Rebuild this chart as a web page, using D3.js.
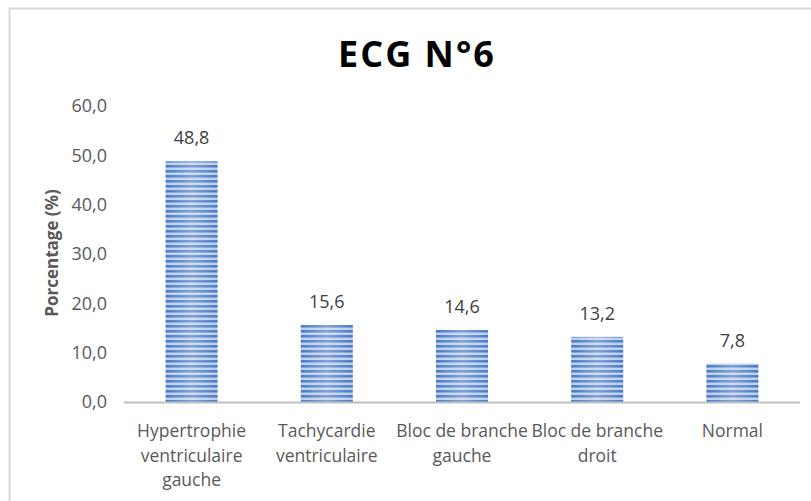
<!DOCTYPE html>
<html>
<head>
<meta charset="utf-8">
<script src="https://cdn.jsdelivr.net/npm/d3@7"></script>
<style>
  html, body { margin: 0; padding: 0; background: #fff; }
  svg { display: block; font-family: "Open Sans", "Noto Sans", sans-serif; }
</style>
</head>
<body>
<svg id="chart" width="811" height="501"></svg>
<script>
// ECG n°6 findings, percentage of patients
const categories = [
  ["Hypertrophie", "ventriculaire", "gauche"],
  ["Tachycardie", "ventriculaire"],
  ["Bloc de branche", "gauche"],
  ["Bloc de branche", "droit"],
  ["Normal"]
];
const values = [48.8, 15.6, 14.6, 13.2, 7.8];
const yTicks = [0, 10, 20, 30, 40, 50, 60];
const title = "ECG N°6";
const yTitle = "Porcentage (%)";

const fmt = v => v.toFixed(1).replace(".", ",");

const svg = d3.select("#chart");
const margin = { left: 124, right: 11, top: 106, bottom: 99 };
const W = 811, H = 501;

// outer chart frame
svg.append("rect")
  .attr("x", 9.5).attr("y", 8.5)
  .attr("width", 820).attr("height", 520)
  .attr("fill", "none").attr("stroke", "#d9d9d9").attr("stroke-width", 2);

// striped bar fill
const defs = svg.append("defs");
const pat = defs.append("pattern")
  .attr("id", "stripes").attr("patternUnits", "userSpaceOnUse")
  .attr("width", 8).attr("height", 5);
pat.append("rect").attr("width", 8).attr("height", 5).attr("fill", "#bccfec");
pat.append("rect").attr("y", 0).attr("width", 8).attr("height", 2).attr("fill", "#4a7bc6");
pat.append("rect").attr("y", 2).attr("width", 8).attr("height", 1).attr("fill", "#7d9fd8");

const grad = defs.append("linearGradient").attr("id", "sheen")
  .attr("x1", "0").attr("x2", "1").attr("y1", "0").attr("y2", "0");
grad.append("stop").attr("offset", "0").attr("stop-color", "#fff").attr("stop-opacity", 0);
grad.append("stop").attr("offset", "0.5").attr("stop-color", "#fff").attr("stop-opacity", 0.3);
grad.append("stop").attr("offset", "1").attr("stop-color", "#fff").attr("stop-opacity", 0);

const x = d3.scaleBand()
  .domain(d3.range(categories.length))
  .range([margin.left, W - margin.right])
  .paddingInner(0.615).paddingOuter(0.3075);

const y = d3.scaleLinear()
  .domain([0, 60])
  .range([H - margin.bottom, margin.top]);

// title
svg.append("text")
  .attr("x", 417).attr("y", 67)
  .attr("text-anchor", "middle")
  .attr("font-size", 36).attr("font-weight", 700)
  .attr("letter-spacing", 2)
  .attr("fill", "#000")
  .text(title);

// y axis tick labels (no axis line)
const yAxis = d3.axisLeft(y).tickValues(yTicks).tickFormat(fmt).tickSize(0).tickPadding(0);
const gy = svg.append("g").attr("transform", `translate(${107},0)`).call(yAxis);
gy.select(".domain").remove();
gy.selectAll("text").attr("font-size", 18).attr("fill", "#595959")
  .attr("font-family", "Open Sans, sans-serif");

// y axis title
svg.append("text")
  .attr("transform", `translate(58,${253}) rotate(-90)`)
  .attr("text-anchor", "middle")
  .attr("font-size", 17).attr("font-weight", 700)
  .attr("fill", "#595959")
  .text(yTitle);

// bars
const bars = svg.append("g");
values.forEach((v, i) => {
  bars.append("rect")
    .attr("x", x(i)).attr("y", y(v))
    .attr("width", x.bandwidth()).attr("height", y(0) - y(v))
    .attr("fill", "url(#stripes)");
  bars.append("rect")
    .attr("x", x(i)).attr("y", y(v))
    .attr("width", x.bandwidth()).attr("height", y(0) - y(v))
    .attr("fill", "url(#sheen)");
});

// x axis baseline
svg.append("line")
  .attr("x1", margin.left).attr("x2", W - margin.right)
  .attr("y1", y(0) + 0.5).attr("y2", y(0) + 0.5)
  .attr("stroke", "#bfbfbf").attr("stroke-width", 2);

// value labels
svg.append("g").selectAll("text").data(values).join("text")
  .attr("x", (d, i) => x(i) + x.bandwidth() / 2)
  .attr("y", d => y(d) - 17)
  .attr("text-anchor", "middle")
  .attr("font-size", 18).attr("fill", "#404040")
  .text(fmt);

// category labels
const cat = svg.append("g").selectAll("text").data(categories).join("text")
  .attr("x", (d, i) => x(i) + x.bandwidth() / 2)
  .attr("y", y(0) + 35)
  .attr("text-anchor", "middle")
  .attr("font-size", 17.5).attr("fill", "#595959");
cat.each(function(lines, i) {
  d3.select(this).selectAll("tspan").data(lines).join("tspan")
    .attr("x", x(i) + x.bandwidth() / 2)
    .attr("dy", (d, j) => j === 0 ? 0 : 24.5)
    .text(d => d);
});
</script>
</body>
</html>
